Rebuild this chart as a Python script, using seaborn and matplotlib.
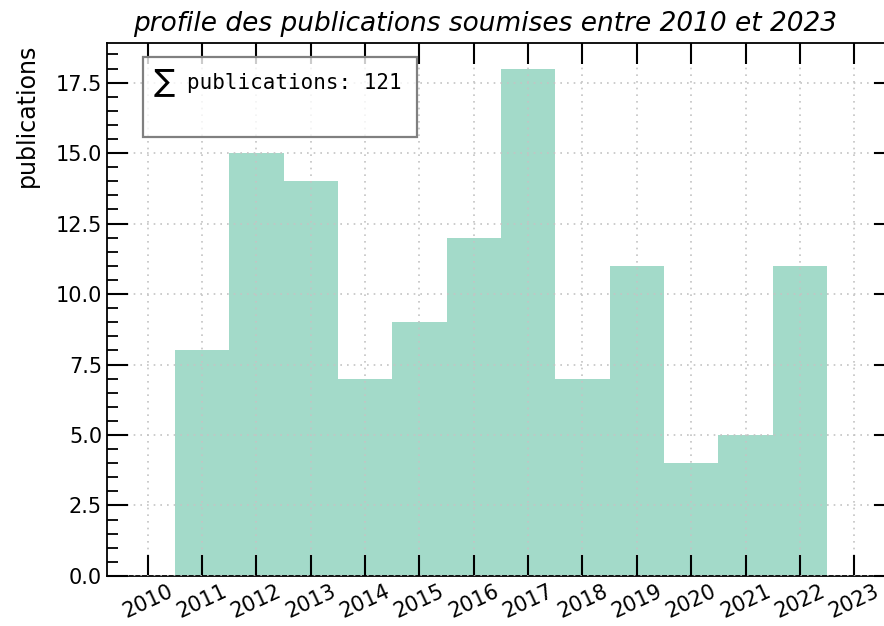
import matplotlib
matplotlib.use("Agg")
import matplotlib.pyplot as plt
import matplotlib.patches as patches
from matplotlib.ticker import MultipleLocator
import seaborn as sns
import pandas as pd

# --- Data ---
years = [2011, 2012, 2013, 2014, 2015, 2016, 2017, 2018, 2019, 2020, 2021, 2022]
counts = [8, 15, 14, 7, 9, 12, 18, 7, 11, 4, 5, 11]
tick_years = list(range(2010, 2024))

df = pd.DataFrame({"annee": years, "publications": counts})
total = sum(counts)

sns.set_style("white")
plt.rcParams["font.family"] = ["DejaVu Sans"]
plt.rcParams["text.color"] = "black"
plt.rcParams["axes.labelcolor"] = "black"
plt.rcParams["xtick.color"] = "black"
plt.rcParams["ytick.color"] = "black"

fig = plt.figure(figsize=(8.84, 6.26), dpi=100)
# right spine falls just outside the canvas, as in the reference
ax = fig.add_axes([0.121, 0.080, 0.8914, 0.851])

sns.histplot(
    data=df,
    x="annee",
    weights="publications",
    discrete=True,
    color="#66c2a5",
    alpha=0.6,
    linewidth=0,
    ax=ax,
)

ax.set_xlim(2009.25, 2023.75)
ax.set_ylim(0, 18.9)
ax.set_xticks(tick_years)
ax.set_xticklabels([str(y) for y in tick_years], rotation=25, fontsize=15)
ax.yaxis.set_major_locator(MultipleLocator(2.5))
ax.yaxis.set_minor_locator(MultipleLocator(0.5))
ax.tick_params(axis="y", labelsize=15)

ax.tick_params(which="major", direction="in", length=15, width=1.5,
               top=True, right=True, bottom=True, left=True)
ax.tick_params(axis="y", which="minor", direction="in", length=8, width=1.3,
               left=True, right=False)
for s in ax.spines.values():
    s.set_visible(True)
    s.set_color("black")
    s.set_linewidth(1.3)

ax.grid(True, which="major", linestyle=(0, (1, 3)), color="#c4c4c4", linewidth=1.2)
ax.set_axisbelow(False)

ax.set_xlabel("")
ax.set_ylabel("publications", fontsize=17, loc="top", labelpad=12)
ax.set_title("profile des publications soumises entre 2010 et 2023",
             fontsize=19, style="italic", pad=9, x=0.48)

# summary box
box = patches.Rectangle((0.0457, 0.824), 0.348, 0.150, transform=ax.transAxes,
                        facecolor=(1, 1, 1, 0.8), edgecolor="#808080",
                        linewidth=1.6, zorder=6)
ax.add_patch(box)
ax.text(0.058, 0.925, r"$\sum$", transform=ax.transAxes, fontsize=16,
        va="center", ha="left", zorder=7)
ax.text(0.1015, 0.925, f"publications: {total}", transform=ax.transAxes,
        fontsize=15, family="DejaVu Sans Mono", va="center", ha="left", zorder=7)

fig.savefig("out.png", dpi=100)
